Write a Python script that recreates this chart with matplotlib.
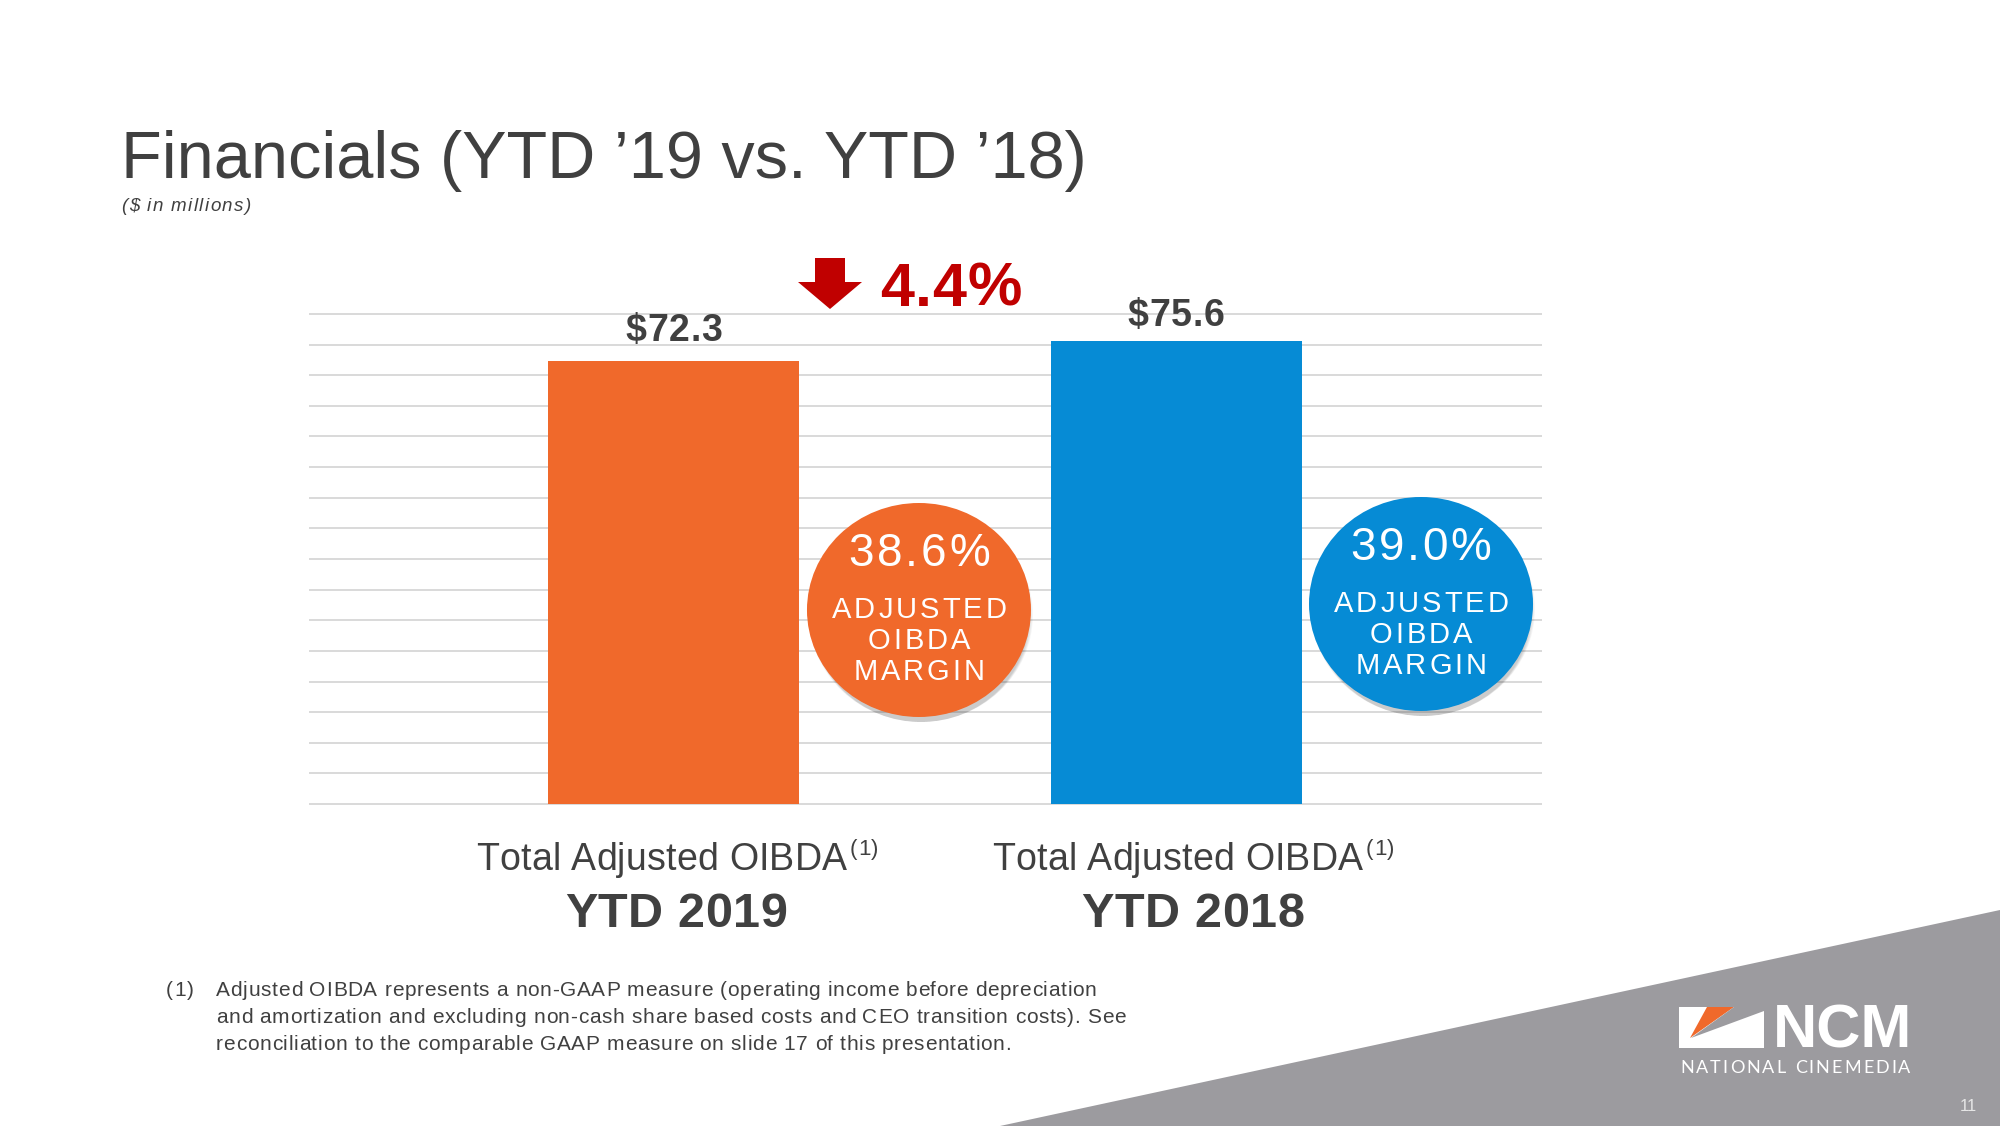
import numpy as np
import matplotlib as mpl
import matplotlib.pyplot as plt
from matplotlib.patches import Ellipse, Polygon
from matplotlib.font_manager import FontProperties, findfont, get_font

# --- data ---
periods = ["YTD 2019", "YTD 2018"]
oibda = [72.3, 75.6]              # $ millions
margins = [38.6, 39.0]            # adjusted OIBDA margin, %
change_pct = 4.4                  # decline YTD'19 vs YTD'18
bar_colors = ["#F0692B", "#068BD5"]

title = "Financials (YTD \u201919 vs. YTD \u201918)"
subtitle = "($ in millions)"
cat_label = "Total Adjusted OIBDA"
footnote = [
    "Adjusted OIBDA represents a non-GAAP measure (operating income before depreciation",
    "and amortization and excluding non-cash share based costs and CEO transition costs). See",
    "reconciliation to the comparable GAAP measure on slide 17 of this presentation.",
]

GREY = "#404040"
RED = "#C00000"
BAND = "#9C9B9F"
W, H = 2000, 1126
SANS = "Liberation Sans"
HF = mpl.rcParams["text.hinting_factor"]

fig = plt.figure(figsize=(W / 100, H / 100), dpi=100)

# bar chart
ax = fig.add_axes([310 / W, 1 - 804 / H, 1231 / W, 490 / H])
x = np.arange(len(periods))
ax.bar(x, oibda, width=0.5, color=bar_colors, zorder=3)
ax.set_xlim(-0.725, 1.727)
ax.set_ylim(0, 80)
ax.set_yticks(np.arange(0, 81, 5))
ax.yaxis.grid(True, color="#D9D9D9", lw=1.4)
for gl in ax.get_ygridlines():
    gl.set_clip_on(False)
ax.set_axisbelow(True)
ax.tick_params(left=False, bottom=False, labelleft=False, labelbottom=False)
for s in ax.spines.values():
    s.set_visible(False)

# overlay in pixel coordinates (y down) for annotations
ov = fig.add_axes([0, 0, 1, 1], zorder=5)
ov.set_xlim(0, W)
ov.set_ylim(H, 0)
ov.axis("off")


def spaced_text(x, y, s, size, spacing=0, family=SANS, weight="normal",
                style="normal", color=GREY, ha="left"):
    # draw text letter by letter to mimic the slide's letter spacing
    fp = FontProperties(family=family, weight=weight, style=style, size=size)
    font = get_font(findfont(fp))
    font.set_size(size, fig.dpi)
    adv = [font.load_char(ord(c)).horiAdvance / 64 / HF for c in s]
    total = sum(adv) + spacing * (len(s) - 1)
    if ha == "center":
        x -= total / 2
    elif ha == "right":
        x -= total
    for c, a in zip(s, adv):
        if c != " ":
            ov.text(x, y, c, fontproperties=fp, color=color, ha="left", va="baseline")
        x += a + spacing
    return x


def to_px(xd, yd):
    px, py = ax.transData.transform((xd, yd))
    return px, H - py


# title
ov.text(121, 178, title, fontsize=48, family=SANS, color=GREY, va="baseline")
spaced_text(121, 211, subtitle, 13.5, 1.4, style="italic")

# value labels above bars
label_gap = [20, 15]
for i, v in enumerate(oibda):
    cx, top = to_px(x[i], v)
    spaced_text(cx, top - label_gap[i], f"${v:.1f}", 27, 0.8, weight="bold", ha="center")

# down arrow + change
ax_c = 830
ov.add_patch(Polygon([(ax_c - 15, 258), (ax_c + 15, 258), (ax_c + 15, 282), (ax_c + 32, 282),
                      (ax_c, 309), (ax_c - 32, 282), (ax_c - 15, 282)],
                     closed=True, color=RED, lw=0))
spaced_text(880, 306, f"{change_pct:.1f}%", 44, 0.8, weight="bold", color=RED)

# margin bubbles
circle_dy = [610, 604]
for i, m in enumerate(margins):
    cx, _ = to_px(x[i], 0)
    cx += 245
    cy = circle_dy[i]
    for k in range(6):
        ov.add_patch(Ellipse((cx + 2, cy + 5 + k), 224 - 2 * k, 214 - 2 * k,
                             color="#000000", alpha=0.035, lw=0))
    ov.add_patch(Ellipse((cx, cy), 224, 214, color=bar_colors[i], lw=0))
    spaced_text(cx, cy - 44, f"{m:.1f}%", 33, 2.8, color="white", ha="center")
    spaced_text(cx, cy + 8, "ADJUSTED", 21, 3.0, color="white", ha="center")
    spaced_text(cx, cy + 39, "OIBDA", 21, 3.0, color="white", ha="center")
    spaced_text(cx, cy + 70, "MARGIN", 21, 3.0, color="white", ha="center")

# category labels
label_left = [476, 992]
label_cx = [676, 1193]
for i, p in enumerate(periods):
    end = spaced_text(label_left[i], 870, cat_label, 27, 0.2)
    spaced_text(end + 3, 855, "(1)", 16, 0.5)
    spaced_text(label_cx[i], 927, p, 35, 0.6, weight="bold", ha="center")

# footnote
spaced_text(166, 996, "(1)", 15, 1.2)
for j, line in enumerate(footnote):
    spaced_text(216, 996 + j * 27, line, 15, 0.7)

# grey corner band + logo
ov.add_patch(Polygon([(1000, H), (W, 910), (W, H)], closed=True, color=BAND, lw=0))
ov.add_patch(Polygon([(1679, 1007), (1764, 1007), (1764, 1048), (1679, 1048)],
                     closed=True, color="white", lw=0))
ov.add_patch(Polygon([(1707, 1007), (1734, 1007), (1690, 1038)], closed=True,
                     color="#F0692B", lw=0))
ov.add_patch(Polygon([(1734, 1007), (1764, 1007), (1764, 1011), (1691, 1038)],
                     closed=True, color=BAND, lw=0))
ov.text(1773, 1048, "NCM", fontsize=44, family=SANS, weight="bold", color="white", va="baseline")
spaced_text(1680, 1073, "NATIONAL CINEMEDIA", 13, 2.1, family="Lato", color="white")
ov.text(1977, 1111, "11", fontsize=12, family=SANS, color="#E6E6E6", ha="right", va="baseline")

fig.savefig("out.png", dpi=100)
